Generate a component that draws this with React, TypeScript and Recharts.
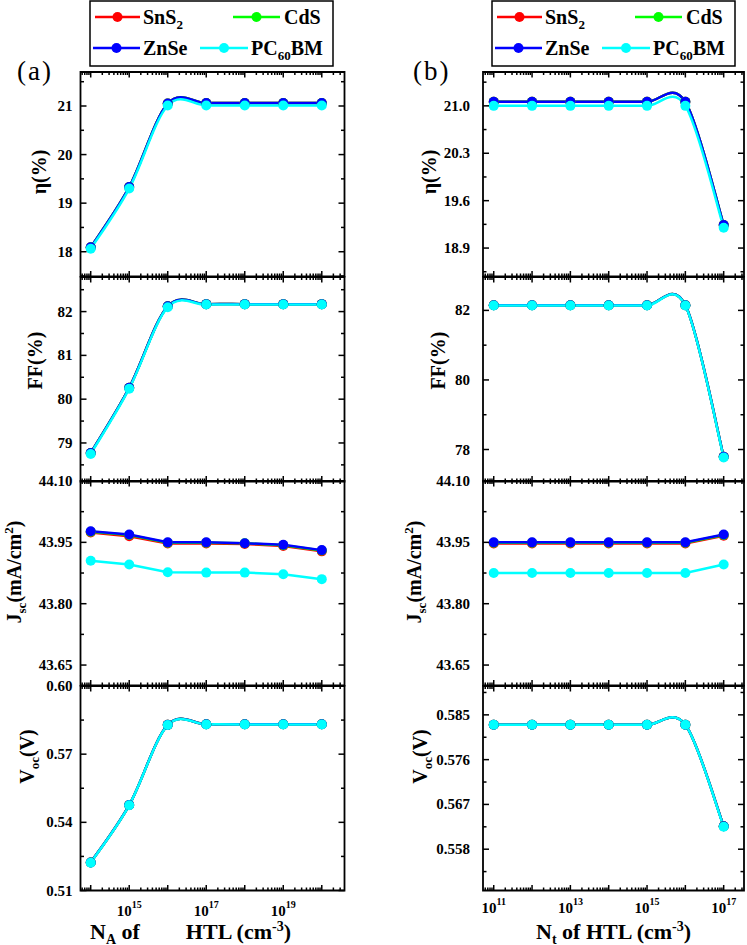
import React from "react";
import { LineChart, Line, XAxis, YAxis, ReferenceArea, Label } from "recharts";

const SERIF = "'Liberation Serif', 'Times New Roman', serif";

// x values
const naConc = [1e14, 1e15, 1e16, 1e17, 1e18, 1e19, 1e20];
const ntConc = [1e11, 1e12, 1e13, 1e14, 1e15, 1e16, 1e17];
const naLabelled = [1e15, 1e17, 1e19];
const ntLabelled = [1e11, 1e13, 1e15, 1e17];

const seriesNames = ["SnS2", "CdS", "ZnSe", "PC60BM"];
const seriesColors = ["#ff0000", "#00ff00", "#0000ff", "#00ffff"];

// (a) vs N_A
const etaA_SnS2 = [18.09, 19.33, 21.05, 21.06, 21.06, 21.06, 21.06];
const etaA_CdS = [18.09, 19.33, 21.05, 21.06, 21.06, 21.06, 21.06];
const etaA_ZnSe = [18.09, 19.33, 21.05, 21.06, 21.06, 21.06, 21.06];
const etaA_PCBM = [18.06, 19.3, 21.01, 21.01, 21.01, 21.01, 21.01];

const ffA_SnS2 = [78.77, 80.26, 82.12, 82.17, 82.17, 82.17, 82.17];
const ffA_CdS = [78.77, 80.26, 82.12, 82.17, 82.17, 82.17, 82.17];
const ffA_ZnSe = [78.77, 80.26, 82.12, 82.17, 82.17, 82.17, 82.17];
const ffA_PCBM = [78.75, 80.24, 82.1, 82.16, 82.16, 82.16, 82.16];

const jscA_SnS2 = [43.974, 43.965, 43.947, 43.947, 43.946, 43.941, 43.928];
const jscA_CdS = [43.976, 43.968, 43.949, 43.949, 43.948, 43.943, 43.93];
const jscA_ZnSe = [43.977, 43.969, 43.95, 43.95, 43.948, 43.944, 43.931];
const jscA_PCBM = [43.905, 43.896, 43.877, 43.876, 43.876, 43.872, 43.86];

const vocA_SnS2 = [0.5223, 0.5476, 0.5829, 0.5832, 0.5832, 0.5832, 0.5832];
const vocA_CdS = [0.5223, 0.5476, 0.5829, 0.5832, 0.5832, 0.5832, 0.5832];
const vocA_ZnSe = [0.5223, 0.5476, 0.5829, 0.5832, 0.5832, 0.5832, 0.5832];
const vocA_PCBM = [0.5222, 0.5475, 0.5828, 0.5831, 0.5831, 0.5831, 0.5831];

// (b) vs N_t
const etaB_SnS2 = [21.06, 21.06, 21.06, 21.06, 21.06, 21.06, 19.24];
const etaB_CdS = [21.06, 21.06, 21.06, 21.06, 21.06, 21.06, 19.24];
const etaB_ZnSe = [21.06, 21.06, 21.06, 21.06, 21.06, 21.06, 19.24];
const etaB_PCBM = [21.0, 21.0, 21.0, 21.0, 21.0, 21.0, 19.2];

const ffB_SnS2 = [82.15, 82.15, 82.15, 82.15, 82.15, 82.15, 77.79];
const ffB_CdS = [82.15, 82.15, 82.15, 82.15, 82.15, 82.15, 77.79];
const ffB_ZnSe = [82.15, 82.15, 82.15, 82.15, 82.15, 82.15, 77.79];
const ffB_PCBM = [82.14, 82.14, 82.14, 82.14, 82.14, 82.14, 77.77];

const jscB_SnS2 = [43.947, 43.947, 43.947, 43.947, 43.947, 43.947, 43.966];
const jscB_CdS = [43.949, 43.949, 43.949, 43.949, 43.949, 43.949, 43.968];
const jscB_ZnSe = [43.95, 43.95, 43.95, 43.95, 43.95, 43.95, 43.969];
const jscB_PCBM = [43.875, 43.875, 43.875, 43.875, 43.875, 43.875, 43.896];

const vocB_SnS2 = [0.583, 0.583, 0.583, 0.583, 0.583, 0.583, 0.5626];
const vocB_CdS = [0.583, 0.583, 0.583, 0.583, 0.583, 0.583, 0.5626];
const vocB_ZnSe = [0.583, 0.583, 0.583, 0.583, 0.583, 0.583, 0.5626];
const vocB_PCBM = [0.583, 0.583, 0.583, 0.583, 0.583, 0.583, 0.5625];

// y ticks (labelled + minor)
const etaA_ticks = [18, 19, 20, 21];
const etaA_minor = [17.5, 18.5, 19.5, 20.5, 21.5];
const ffA_ticks = [79, 80, 81, 82];
const ffA_minor = [78.5, 79.5, 80.5, 81.5, 82.5];
const jsc_ticks = [43.65, 43.8, 43.95, 44.1];
const jsc_minor = [43.725, 43.875, 44.025];
const vocA_ticks = [0.51, 0.54, 0.57, 0.6];
const vocA_minor = [0.525, 0.555, 0.585];
const etaB_ticks = [18.9, 19.6, 20.3, 21.0];
const etaB_minor = [18.55, 19.25, 19.95, 20.65, 21.35];
const ffB_ticks = [78, 80, 82];
const ffB_minor = [79, 81];
const vocB_ticks = [0.558, 0.567, 0.576, 0.585];
const vocB_minor = [0.5535, 0.5625, 0.5715, 0.5805, 0.5895];

const build = (xs: number[], ys: number[][]) =>
  xs.map((x, i) => ({ x, s0: ys[0][i], s1: ys[1][i], s2: ys[2][i], s3: ys[3][i] }));

// Catmull-Rom style spline (like Origin's spline connection), no ripple far from bends
const splineCurve = (context: any) => {
  let pts: number[][] = [];
  return {
    areaStart() {},
    areaEnd() {},
    lineStart() {
      pts = [];
    },
    point(x: number, y: number) {
      pts.push([+x, +y]);
    },
    lineEnd() {
      if (!pts.length) return;
      context.moveTo(pts[0][0], pts[0][1]);
      for (let i = 0; i < pts.length - 1; i++) {
        const p0 = pts[i - 1] || pts[i];
        const p1 = pts[i];
        const p2 = pts[i + 1];
        const p3 = pts[i + 2] || pts[i + 1];
        context.bezierCurveTo(
          p1[0] + (p2[0] - p0[0]) / 6,
          p1[1] + (p2[1] - p0[1]) / 6,
          p2[0] - (p3[0] - p1[0]) / 6,
          p2[1] - (p3[1] - p1[1]) / 6,
          p2[0],
          p2[1]
        );
      }
    },
  };
};

// layout
const ROW_TOPS = [72, 276.5, 481, 685.5, 890];
const PAD = 8;
const BOTTOM_EXTRA = 945 - 890;

const minorLog = (lo: number, hi: number) => {
  const out: number[] = [];
  for (let e = Math.floor(lo); e <= Math.ceil(hi); e++)
    for (let k = 2; k <= 9; k++) {
      const v = k * Math.pow(10, e);
      if (Math.log10(v) > lo && Math.log10(v) < hi) out.push(v);
    }
  return out;
};

const COLS = [
  {
    chartLeft: 0, chartWidth: 373, plotLeft: 80.5, plotRight: 344.5,
    xExp: [13.735, 20.59] as [number, number], major: naConc, labelled: naLabelled,
    tickGap: 8, tickBase: 915, titleX: 90, tag: "(a)", tagX: 17,
  },
  {
    chartLeft: 373, chartWidth: 374, plotLeft: 483, plotRight: 744,
    xExp: [10.72, 17.53] as [number, number], major: ntConc, labelled: ntLabelled,
    tickGap: 13, tickBase: 912, titleX: 536, tag: "(b)", tagX: 413,
  },
];

// rich text: parts of [text, "" | "sub" | "sup", extra dx]
type Part = [string, string, number?];
const rich = (parts: Part[], small: number) => {
  let cur = 0;
  return parts.map(([t, kind, dx], i) => {
    const target = kind === "sub" ? 5 : kind === "sup" ? -8 : 0;
    const dy = target - cur;
    cur = target;
    return (
      <tspan key={i} dy={dy || undefined} dx={dx} fontSize={kind ? small : undefined}>
        {t}
      </tspan>
    );
  });
};

const nameParts = (name: string): Part[] =>
  name.split(/(\d+)/).filter(Boolean).map((p) => [p, /\d/.test(p) ? "sub" : ""] as Part);

const etaLabel: Part[] = [["η(%)", ""]];
const ffLabel: Part[] = [["FF(%)", ""]];
const jscLabel: Part[] = [["J", ""], ["sc", "sub"], ["(mA/cm", ""], ["2", "sup"], [")", ""]];
const vocLabel: Part[] = [["V", ""], ["oc", "sub"], ["(V)", ""]];
const titleA: Part[] = [["N", ""], ["A", "sub"], [" of", ""], ["HTL (cm", "", 46], ["-3", "sup"], [")", ""]];
const titleB: Part[] = [["N", ""], ["t", "sub"], [" of HTL (cm", ""], ["-3", "sup"], [")", ""]];

type PanelCfg = {
  data: any[];
  domain: [number, number];
  ticks: number[];
  minor: number[];
  fmt: (v: number) => string;
  label: Part[];
  lx: number;
  ly: number;
  curve: any;
};

const panelsA: PanelCfg[] = [
  { data: build(naConc, [etaA_SnS2, etaA_CdS, etaA_ZnSe, etaA_PCBM]), domain: [17.49, 21.7], ticks: etaA_ticks, minor: etaA_minor, fmt: (v) => v.toFixed(0), label: etaLabel, lx: 38.5, ly: 172, curve: splineCurve },
  { data: build(naConc, [ffA_SnS2, ffA_CdS, ffA_ZnSe, ffA_PCBM]), domain: [78.12, 82.79], ticks: ffA_ticks, minor: ffA_minor, fmt: (v) => v.toFixed(0), label: ffLabel, lx: 35, ly: 360, curve: splineCurve },
  { data: build(naConc, [jscA_SnS2, jscA_CdS, jscA_ZnSe, jscA_PCBM]), domain: [43.6, 44.1], ticks: jsc_ticks, minor: jsc_minor, fmt: (v) => v.toFixed(2), label: jscLabel, lx: 14, ly: 572, curve: "linear" },
  { data: build(naConc, [vocA_SnS2, vocA_CdS, vocA_ZnSe, vocA_PCBM]), domain: [0.51, 0.6], ticks: vocA_ticks, minor: vocA_minor, fmt: (v) => v.toFixed(2), label: vocLabel, lx: 27, ly: 756, curve: splineCurve },
];

const panelsB: PanelCfg[] = [
  { data: build(ntConc, [etaB_SnS2, etaB_CdS, etaB_ZnSe, etaB_PCBM]), domain: [18.48, 21.5], ticks: etaB_ticks, minor: etaB_minor, fmt: (v) => v.toFixed(1), label: etaLabel, lx: 429, ly: 172, curve: splineCurve },
  { data: build(ntConc, [ffB_SnS2, ffB_CdS, ffB_ZnSe, ffB_PCBM]), domain: [77.08, 82.96], ticks: ffB_ticks, minor: ffB_minor, fmt: (v) => v.toFixed(0), label: ffLabel, lx: 438, ly: 360, curve: splineCurve },
  { data: build(ntConc, [jscB_SnS2, jscB_CdS, jscB_ZnSe, jscB_PCBM]), domain: [43.6, 44.1], ticks: jsc_ticks, minor: jsc_minor, fmt: (v) => v.toFixed(2), label: jscLabel, lx: 414, ly: 572, curve: "linear" },
  { data: build(ntConc, [vocB_SnS2, vocB_CdS, vocB_ZnSe, vocB_PCBM]), domain: [0.5497, 0.5908], ticks: vocB_ticks, minor: vocB_minor, fmt: (v) => v.toFixed(3), label: vocLabel, lx: 420, ly: 756, curve: splineCurve },
];

const isIn = (arr: number[], v: number) => arr.some((a) => Math.abs(a - v) / Math.abs(a) < 1e-6);

function Panel({ col, row, cfg, title }: { col: typeof COLS[0]; row: number; cfg: PanelCfg; title: Part[] }) {
  const top = ROW_TOPS[row];
  const h = ROW_TOPS[row + 1] - top;
  const isLast = row === 3;
  const chartTop = top - PAD;
  const chartH = PAD + h + (isLast ? BOTTOM_EXTRA : PAD);
  const pl = col.plotLeft - col.chartLeft;
  const pr = col.plotRight - col.chartLeft;
  const pt = PAD;
  const pb = PAD + h;
  const xDomain: [number, number] = [Math.pow(10, col.xExp[0]), Math.pow(10, col.xExp[1])];
  const xTicks = [...col.major, ...minorLog(col.xExp[0], col.xExp[1])];

  const yTick = (props: any) => {
    const { y, payload } = props;
    const major = isIn(cfg.ticks, payload.value);
    const len = major ? 6 : 3.5;
    return (
      <g>
        <line x1={pl} x2={pl + len} y1={y} y2={y} stroke="#000" strokeWidth={1.5} />
        <line x1={pr} x2={pr - len} y1={y} y2={y} stroke="#000" strokeWidth={1.5} />
        {major && (
          <text x={pl - col.tickGap} y={y} dy={5} textAnchor="end" fontFamily={SERIF} fontWeight="bold" fontSize={15} fill="#000">
            {cfg.fmt(payload.value)}
          </text>
        )}
      </g>
    );
  };

  const xTick = (props: any) => {
    const { x, payload } = props;
    const v = payload.value;
    const major = isIn(col.major, v);
    const len = major ? 5.5 : 3;
    const showLabel = isLast && isIn(col.labelled, v);
    return (
      <g>
        <line x1={x} x2={x} y1={pb} y2={pb - len} stroke="#000" strokeWidth={1.5} />
        <line x1={x} x2={x} y1={pt} y2={pt + len} stroke="#000" strokeWidth={1.5} />
        {showLabel && (
          <text x={x} y={col.tickBase - chartTop} textAnchor="middle" fontFamily={SERIF} fontWeight="bold" fontSize={15} fill="#000">
            {rich([["10", ""], [String(Math.round(Math.log10(v))), "sup"]], 10)}
          </text>
        )}
      </g>
    );
  };

  const yLabel = () => (
    <text
      transform={`translate(${cfg.lx - col.chartLeft},${cfg.ly - chartTop}) rotate(-90)`}
      textAnchor="middle"
      y={7}
      fontFamily={SERIF}
      fontWeight="bold"
      fontSize={20}
      fill="#000"
    >
      {rich(cfg.label, 13)}
    </text>
  );

  const xTitle = () => (
    <text x={col.titleX - col.chartLeft} y={938 - chartTop} fontFamily={SERIF} fontWeight="bold" fontSize={22} fill="#000">
      {rich(title, 14)}
    </text>
  );

  return (
    <div style={{ position: "absolute", left: col.chartLeft, top: chartTop }}>
      <LineChart
        width={col.chartWidth}
        height={chartH}
        data={cfg.data}
        margin={{ top: PAD, right: col.chartLeft + col.chartWidth - col.plotRight, bottom: 0, left: 0 }}
      >
        <XAxis
          dataKey="x"
          type="number"
          scale="log"
          domain={xDomain}
          allowDataOverflow
          ticks={xTicks}
          interval={0}
          tickSize={0}
          tickMargin={0}
          axisLine={false}
          tickLine={false}
          height={isLast ? BOTTOM_EXTRA : PAD}
          tick={xTick}
        >
          {isLast && <Label content={xTitle} />}
        </XAxis>
        <YAxis
          type="number"
          domain={cfg.domain}
          allowDataOverflow
          ticks={[...cfg.ticks, ...cfg.minor]}
          interval={0}
          width={pl}
          tickSize={0}
          tickMargin={0}
          axisLine={false}
          tickLine={false}
          tick={yTick}
        >
          <Label content={yLabel} />
        </YAxis>
        <ReferenceArea
          x1={xDomain[0]}
          x2={xDomain[1]}
          y1={cfg.domain[0]}
          y2={cfg.domain[1]}
          fill="none"
          fillOpacity={0}
          stroke="#000"
          strokeWidth={1.8}
          ifOverflow="visible"
        />
        {seriesNames.map((n, i) => (
          <Line
            key={n}
            type={cfg.curve}
            dataKey={`s${i}`}
            name={n}
            stroke={seriesColors[i]}
            strokeWidth={2.5}
            dot={{ r: 5, fill: seriesColors[i], stroke: seriesColors[i], strokeWidth: 0 }}
            activeDot={false}
            isAnimationActive={false}
          />
        ))}
      </LineChart>
    </div>
  );
}

function LegendBox({ dx }: { dx: number }) {
  const items = [
    { i: 0, x1: 95, x2: 140, tx: 143, y: 17 },
    { i: 1, x1: 233, x2: 280, tx: 284, y: 17 },
    { i: 2, x1: 93, x2: 140, tx: 143, y: 48 },
    { i: 3, x1: 200, x2: 248, tx: 251, y: 48 },
  ];
  return (
    <g transform={`translate(${dx},0)`}>
      <rect x={90} y={1} width={243} height={65} fill="#fff" stroke="#000" strokeWidth={1.5} />
      {items.map((it) => (
        <g key={it.i}>
          <line x1={it.x1} x2={it.x2} y1={it.y} y2={it.y} stroke={seriesColors[it.i]} strokeWidth={2.5} />
          <circle cx={(it.x1 + it.x2) / 2} cy={it.y} r={5} fill={seriesColors[it.i]} />
          <text x={it.tx} y={it.y + 7} fontFamily={SERIF} fontWeight="bold" fontSize={20} fill="#000">
            {rich(nameParts(seriesNames[it.i]), 13)}
          </text>
        </g>
      ))}
    </g>
  );
}

export default function App() {
  return (
    <div style={{ position: "absolute", left: 0, top: 0, width: 747, height: 945, background: "#fff" }}>
      <svg width={747} height={90} style={{ position: "absolute", left: 0, top: 0 }}>
        <LegendBox dx={0} />
        <LegendBox dx={402} />
        {COLS.map((c) => (
          <text key={c.tag} x={c.tagX} y={80} fontFamily={SERIF} fontSize={27} fill="#000" letterSpacing={2}>
            {c.tag}
          </text>
        ))}
      </svg>
      {panelsA.map((p, r) => (
        <Panel key={`a${r}`} col={COLS[0]} row={r} cfg={p} title={titleA} />
      ))}
      {panelsB.map((p, r) => (
        <Panel key={`b${r}`} col={COLS[1]} row={r} cfg={p} title={titleB} />
      ))}
    </div>
  );
}
